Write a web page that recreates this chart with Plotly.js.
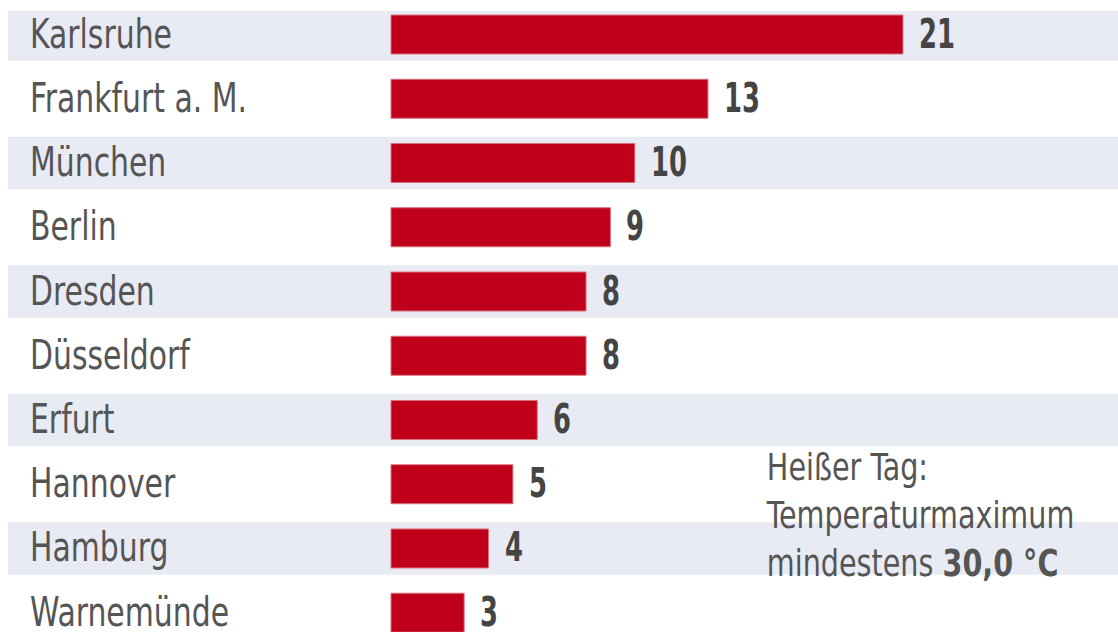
<!DOCTYPE html>
<html>
<head>
<meta charset="utf-8">
<script src="https://cdn.plot.ly/plotly-3.0.1.min.js"></script>
<style>html,body{margin:0;padding:0;background:#fff;}#chart{width:1118px;height:632px;}</style>
</head>
<body>
<div id="chart"></div>
<script>
const cities = ["Karlsruhe","Frankfurt a. M.","München","Berlin","Dresden","Düsseldorf","Erfurt","Hannover","Hamburg","Warnemünde"];
const hotDays = [21,13,10,9,8,8,6,5,4,3];
const noteText = "Heißer Tag:<br>Temperaturmaximum<br>mindestens <b>30,0 °C</b>";

const FONT = "'Liberation Sans Narrow','Arial Narrow','DejaVu Sans Condensed',sans-serif";
const pxPerUnit = 24.38;
const W = 1118, H = 632;

const shapes = [];
cities.forEach((c, i) => {
  if (i % 2 === 0) {
    shapes.push({type:'rect', layer:'below', xref:'paper', yref:'y',
      x0: 8/W, x1: 1, y0: i-0.41, y1: i+0.41,
      fillcolor:'#e8eaf4', line:{width:0}});
  }
});

const annotations = [];
const squeeze = [];
cities.forEach((c, i) => {
  annotations.push({xref:'paper', yref:'y', x: 28/W, y: i, text: c, showarrow:false,
    xanchor:'left', yanchor:'middle', yshift:1, font:{family:FONT, size:40, color:'#555555'}});
  squeeze.push(0.83);
  annotations.push({xref:'x', yref:'y', x: hotDays[i], y: i, text: '<b>'+hotDays[i]+'</b>', showarrow:false,
    xanchor:'left', yanchor:'middle', xshift:14, yshift:1, font:{family:FONT, size:41, color:'#444444'}});
  squeeze.push(0.70);
});
annotations.push({xref:'paper', yref:'paper', x: 764/W, y: 1 - (444-11)/621, text: noteText, showarrow:false,
  xanchor:'left', yanchor:'top', align:'left', font:{family:FONT, size:37, color:'#555555'}});
squeeze.push(0.86);

const trace = {
  type:'bar', orientation:'h', x: hotDays, y: cities.map((c,i)=>i),
  marker:{color:'#c0001a', line:{color:'#d8707e', width:1}},
  hoverinfo:'none'
};

const layout = {
  width: W, height: H,
  margin:{l:0, r:0, t:11, b:0, pad:0},
  paper_bgcolor:'#ffffff', plot_bgcolor:'rgba(0,0,0,0)',
  showlegend:false,
  bargap: 0.393,
  xaxis:{range:[-391/pxPerUnit, (W-391)/pxPerUnit], visible:false, fixedrange:true},
  yaxis:{range:[9.30, -0.366], visible:false, fixedrange:true},
  shapes: shapes,
  annotations: annotations
};

Plotly.newPlot('chart', [trace], layout, {displayModeBar:false, staticPlot:true}).then(gd => {
  gd.querySelectorAll('g.annotation').forEach(g => {
    const idx = +g.getAttribute('data-index');
    const t = g.querySelector('text.annotation-text');
    if (!t || !(idx in squeeze)) return;
    t.style.transformBox = 'fill-box';
    t.style.transformOrigin = '0% 50%';
    t.style.transform = 'scaleX(' + squeeze[idx] + ')';
  });
});
</script>
</body>
</html>
